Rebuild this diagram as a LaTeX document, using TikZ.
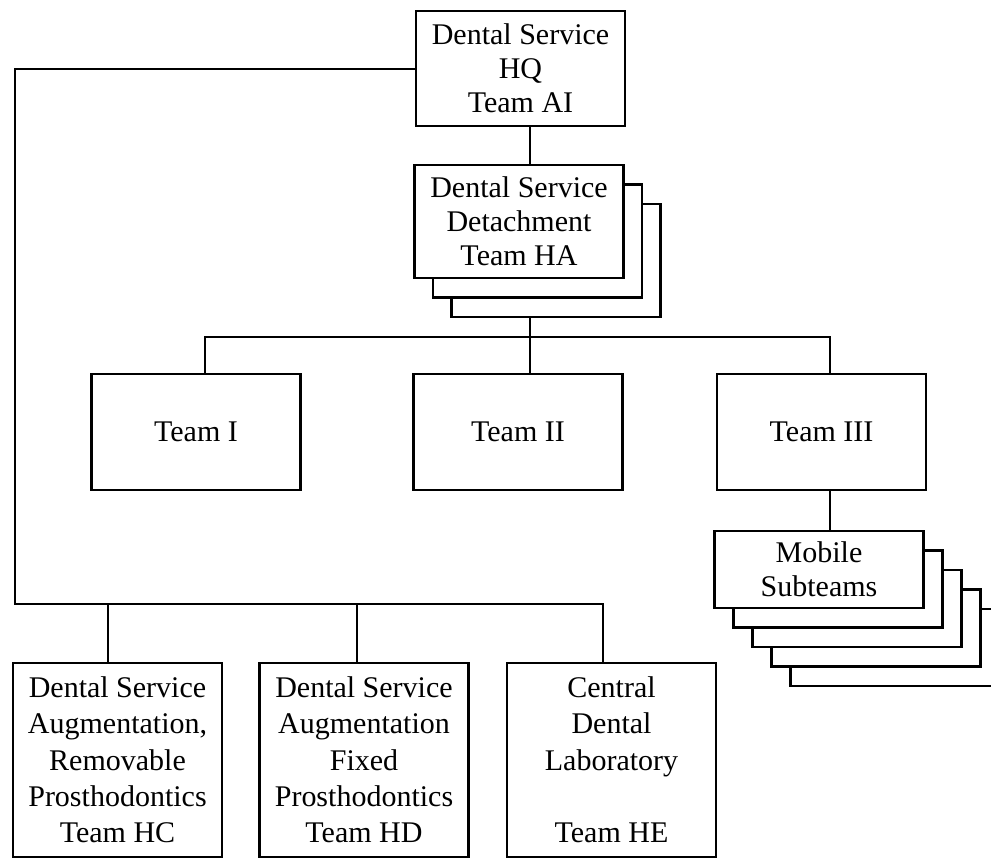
\documentclass[tikz,border=0pt]{standalone}
\usepackage{fontspec}
\setmainfont{Liberation Serif}
\begin{document}
\begin{tikzpicture}[x=1pt,y=-1pt,
  unit/.style={draw, line width=2.6pt, fill=white, inner sep=0pt, align=center,
    minimum width=209pt, font=\fontsize{30}{34}\selectfont},
  tall/.style={unit, minimum height=194pt, font=\fontsize{30}{36.3}\selectfont},
  link/.style={line width=2.6pt, line join=miter}]
\useasboundingbox (0,0) rectangle (991,861);
\clip (0,0) rectangle (991,861);

% headquarters
\node[unit, minimum height=115pt] (hq) at (520.5,68.5) {Dental Service\\HQ\\Team AI};

% detachment teams, stacked
\node[unit, minimum height=113pt] (det3) at (556,260.5) {};
\node[unit, minimum height=113pt] (det2) at (537.5,241) {};
\node[unit, minimum height=113pt] (det) at (519,221.5) {Dental Service\\Detachment\\Team HA};

% the three teams
\node[unit, minimum height=116pt] (t1) at (196,432) {Team I};
\node[unit, minimum height=116pt] (t2) at (518,432) {Team II};
\node[unit, minimum height=116pt] (t3) at (821.5,432) {Team III};

% mobile subteams, stacked
\node[unit, minimum height=77pt] (mob5) at (895,647.5) {};
\node[unit, minimum height=77pt] (mob4) at (876,628) {};
\node[unit, minimum height=77pt] (mob3) at (857,608.5) {};
\node[unit, minimum height=77pt] (mob2) at (838,589) {};
\node[unit, minimum height=77pt] (mob) at (819,569.5) {Mobile\\Subteams};

% augmentation and laboratory teams
\node[tall] (hc) at (117.5,760) {Dental Service\\Augmentation,\\Removable\\Prosthodontics\\Team HC};
\node[tall] (hd) at (364,760) {Dental Service\\Augmentation\\Fixed\\Prosthodontics\\Team HD};
\node[tall] (he) at (611.5,760) {Central\\Dental\\Laboratory\\[36.3pt]Team HE};

% junction points
\coordinate (busA) at (530,337);
\coordinate (c1) at (205,337);
\coordinate (c3) at (830,337);
\coordinate (l1) at (15,69);
\coordinate (l2) at (15,604);
\coordinate (b1) at (108,604);
\coordinate (b2) at (357,604);
\coordinate (b3) at (603,604);

% HQ to detachment to teams
\draw[link] (hq.south -| busA) -- (det.north -| busA);
\draw[link] (det3.south -| busA) -- (busA);
\draw[link] (t1.north -| c1) -- (c1) -- (c3) -- (t3.north -| c3);
\draw[link] (busA) -- (t2.north -| busA);
\draw[link] (t3.south -| c3) -- (mob.north -| c3);

% HQ to augmentation and laboratory teams
\draw[link] (hq.west |- l1) -- (l1) -- (l2) -- (b3) -- (he.north -| b3);
\draw[link] (b1) -- (hc.north -| b1);
\draw[link] (b2) -- (hd.north -| b2);
\end{tikzpicture}
\end{document}
